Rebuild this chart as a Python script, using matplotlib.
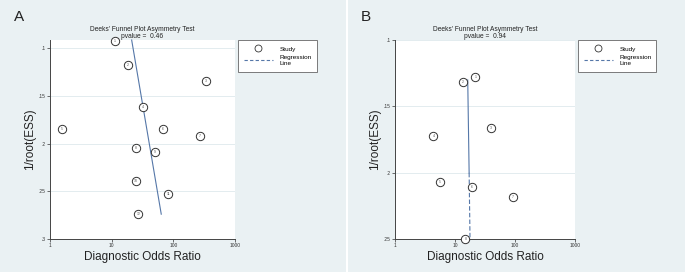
import numpy as np
import matplotlib.pyplot as plt
from matplotlib.lines import Line2D

plt.rcParams['font.family'] = ['Liberation Sans', 'DejaVu Sans']

# panel A data
dor_a = [11.3, 18.2, 337, 31.8, 1.56, 67, 273, 25, 51, 25, 82.6, 27]
ess_a = [0.0924, 0.1178, 0.1346, 0.1618, 0.1845, 0.1845, 0.1918, 0.2044, 0.2089, 0.2393, 0.2529, 0.2741]
study_a = [1, 2, 3, 4, 5, 6, 7, 8, 9, 10, 11, 12]
reg_a_x = [21.1, 63.7]
reg_a_y = [0.0916, 0.274]
p_a = 0.46

# panel B data
dor_b = [21.9, 13.4, 40.1, 4.38, 5.52, 19, 91, 14.9]
ess_b = [0.1276, 0.1314, 0.1665, 0.1723, 0.2072, 0.2105, 0.2185, 0.2498]
study_b = [1, 2, 3, 4, 5, 6, 7, 8]
reg_b_x = [16.3, 17.2, 17.8]
reg_b_y = [0.1301, 0.200, 0.2506]
p_b = 0.94

bg = '#eaf1f3'
linecol = '#5577a8'
W, H = 685, 272

fig = plt.figure(figsize=(6.85, 2.72), dpi=100)
fig.patch.set_facecolor('white')

# panel backgrounds
fig.patches.append(plt.Rectangle((0, 0), 346 / W, 1, transform=fig.transFigure,
                                 facecolor=bg, edgecolor='none', zorder=-10))
fig.patches.append(plt.Rectangle((348 / W, 0), 1 - 348 / W, 1, transform=fig.transFigure,
                                 facecolor=bg, edgecolor='none', zorder=-10))


def funnel(ax, x, y, labels, regx, regy, pval, ylim, yticks, ytl, dashed_from=None):
    ax.set_facecolor('white')
    ax.set_xscale('log')
    ax.set_xlim(1, 1000)
    ax.set_ylim(*ylim)
    ax.set_yticks(yticks)
    ax.set_yticklabels(ytl)
    ax.set_xticks([1, 10, 100, 1000])
    ax.set_xticklabels(['1', '10', '100', '1000'])
    ax.minorticks_off()
    ax.tick_params(labelsize=3.5, length=2, width=0.5, colors='#333333', pad=1)
    for t in yticks:
        ax.axhline(t, color='#e3ecef', lw=0.7, zorder=1)
    for s in ['top', 'right']:
        ax.spines[s].set_visible(False)
    for s in ['left', 'bottom']:
        ax.spines[s].set_color('#444444')
        ax.spines[s].set_linewidth(0.7)
    ax.scatter(x, y, s=36, facecolors='white', edgecolors='#333333', linewidths=0.7, zorder=3, clip_on=False)
    for xi, yi, lb in zip(x, y, labels):
        ax.text(xi, yi, str(lb), fontsize=2.5, ha='center', va='center', color='#555555', zorder=4)
    if dashed_from is None:
        ax.plot(regx, regy, color=linecol, lw=0.8, zorder=2, clip_on=False)
    else:
        ax.plot(regx[:2], regy[:2], color=linecol, lw=0.8, zorder=2, clip_on=False)
        ax.plot(regx[1:], regy[1:], color=linecol, lw=0.8, ls=(0, (4, 2)), zorder=2, clip_on=False)
    ax.set_xlabel('Diagnostic Odds Ratio', fontsize=8.5, labelpad=2, color='#222222')
    ax.set_ylabel('1/root(ESS)', fontsize=8.5, labelpad=2, color='#222222')
    ax.set_title("Deeks' Funnel Plot Asymmetry Test\npvalue =  %.2f" % pval, fontsize=4.8,
                 pad=1.5, linespacing=1.0, color='#222222')
    handles = [Line2D([], [], marker='o', ls='none', markerfacecolor='white', markeredgecolor='#333333',
                      markersize=5, markeredgewidth=0.6, label='Study'),
               Line2D([], [], color=linecol, lw=0.8, ls=(0, (3, 2)), label='Regression\nLine')]
    return handles


def add_legend(ax, h, x0, y0, w):
    leg = ax.legend(handles=h, loc='upper left', bbox_to_anchor=(x0 / W, 1 - y0 / H, w / W, 0.01),
                    bbox_transform=fig.transFigure, mode='expand', fontsize=4.6, frameon=True,
                    fancybox=False, edgecolor='#666666', borderpad=0.9, handlelength=4.6,
                    labelspacing=0.6, handletextpad=1.0, borderaxespad=0, framealpha=1)
    leg.get_frame().set_linewidth(0.6)


ax1 = fig.add_axes([50 / W, 1 - 239 / H, 185 / W, 199 / H])
h = funnel(ax1, dor_a, ess_a, study_a, reg_a_x, reg_a_y, p_a, (0.3, 0.0916),
           [0.1, 0.15, 0.2, 0.25, 0.3], ['.1', '.15', '.2', '.25', '.3'])
add_legend(ax1, h, 238, 43, 79)

ax2 = fig.add_axes([395 / W, 1 - 239.3 / H, 180 / W, 199.3 / H])
h = funnel(ax2, dor_b, ess_b, study_b, reg_b_x, reg_b_y, p_b, (0.25, 0.1),
           [0.1, 0.15, 0.2, 0.25], ['.1', '.15', '.2', '.25'], dashed_from=True)
add_legend(ax2, h, 578, 43, 78)

fig.text(14 / W, 1 - 17 / H, 'A', fontsize=11, va='center', ha='left', color='#222222')
fig.text(361 / W, 1 - 17 / H, 'B', fontsize=11, va='center', ha='left', color='#222222')

fig.savefig('out.png', dpi=100, facecolor=fig.get_facecolor())
